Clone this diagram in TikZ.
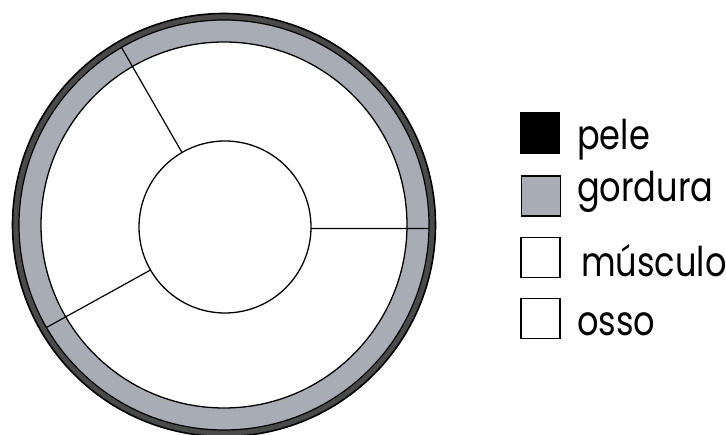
\documentclass[tikz,border=0pt]{standalone}
\usepackage{fontspec}
\setmainfont{Poppins}
\definecolor{skinc}{HTML}{4A4A4A}
\definecolor{fatc}{HTML}{A7ACB5}
\newcommand{\legtxt}[1]{\scalebox{0.82}[1]{#1}}
\begin{document}
\begin{tikzpicture}[x=1pt,y=-1pt,
  ring/.style={circle, draw=black, inner sep=0pt, outer sep=0pt},
  divline/.style={draw=black, line width=1.2pt},
  legbox/.style={draw=black, line width=1.4pt, inner sep=0pt, outer sep=0pt, minimum width=39pt, minimum height=40pt},
  legtext/.style={anchor=base west, inner sep=0pt, font=\fontsize{41}{43}\selectfont}]
\useasboundingbox (0,0) rectangle (726,435);
\coordinate (c) at (224,225);
\node[ring, fill=skinc, line width=1.6pt, minimum size=423pt] (skin) at (c) {};
\node[ring, fill=fatc, line width=1.2pt, minimum size=410pt] (fat) at (c) {};
\node[ring, fill=white, line width=1.3pt, minimum size=366pt] (muscle) at (c) {};
\node[ring, fill=white, line width=1.3pt, minimum size=172pt] (bone) at (225,227) {};
\draw[divline] (bone.120) -- (fat.120);
\draw[divline] (bone.-1) -- (fat.-1);
\draw[divline] (bone.210) -- (fat.210);
\node[legbox, fill=black] (kpele) at (540,133) {};
\node[legbox, fill=fatc] (kgord) at (541,196) {};
\node[legbox, fill=white] (kmusc) at (540.5,257.5) {};
\node[legbox, fill=white] (kosso) at (540.5,318.5) {};
\node[legtext] (tpele) at (577,150) {\legtxt{pele}};
\node[legtext] (tgord) at (577,202) {\legtxt{gordura}};
\node[legtext] (tmusc) at (581,277) {\legtxt{músculo}};
\node[legtext] (tosso) at (577,336) {\legtxt{osso}};
\end{tikzpicture}
\end{document}
